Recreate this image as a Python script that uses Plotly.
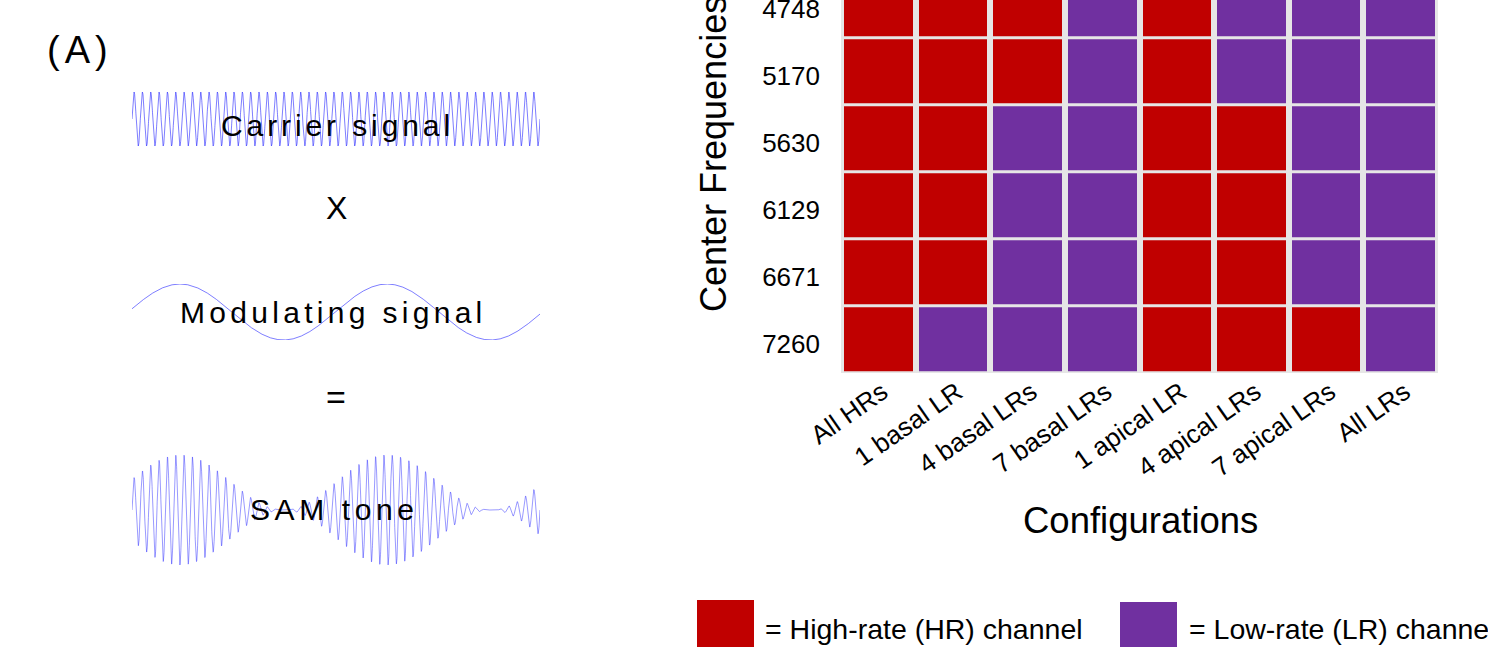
import numpy as np
import plotly.graph_objects as go

# ---------------- data ----------------
configurations = ["All HRs", "1 basal LR", "4 basal LRs", "7 basal LRs",
                  "1 apical LR", "4 apical LRs", "7 apical LRs", "All LRs"]
center_frequencies = ["7260", "6671", "6129", "5630", "5170", "4748"]
# 1 = high-rate (HR) channel, 0 = low-rate (LR) channel, one list per centre frequency
hr_7260 = [1, 0, 0, 0, 1, 1, 1, 0]
hr_6671 = [1, 1, 0, 0, 1, 1, 0, 0]
hr_6129 = [1, 1, 0, 0, 1, 1, 0, 0]
hr_5630 = [1, 1, 0, 0, 1, 1, 0, 0]
hr_5170 = [1, 1, 1, 0, 1, 0, 0, 0]
hr_4748 = [1, 1, 1, 0, 1, 0, 0, 0]
channel_matrix = [hr_7260, hr_6671, hr_6129, hr_5630, hr_5170, hr_4748]

# panel A waveform parameters
carrier_cycles = 49
modulation_cycles = 1.97
modulation_phase = 0.115
n_samples = 4000

HR_COLOR = "#c00000"
LR_COLOR = "#7030a0"
GAP_COLOR = "#e6e6e6"
WAVE_COLOR = "rgba(40,40,255,0.6)"
FONT = "Liberation Sans, Arial, sans-serif"

W, H = 1488, 647


def px(x):
    return x / W


def py(y):
    return 1 - y / H


t = np.linspace(0, 1, n_samples)
carrier = np.sin(2 * np.pi * carrier_cycles * t)
modulator = np.sin(2 * np.pi * modulation_cycles * t + modulation_phase)
sam = (1 + modulator) * carrier

fig = go.Figure()

# ---------------- panel A: signals ----------------
fig.add_trace(go.Scatter(x=t, y=carrier, mode="lines", line=dict(color=WAVE_COLOR, width=1),
                         xaxis="x2", yaxis="y2", hoverinfo="skip", showlegend=False))
fig.add_trace(go.Scatter(x=t, y=modulator, mode="lines", line=dict(color=WAVE_COLOR, width=1),
                         xaxis="x3", yaxis="y3", hoverinfo="skip", showlegend=False))
fig.add_trace(go.Scatter(x=t, y=sam, mode="lines", line=dict(color=WAVE_COLOR, width=0.8),
                         xaxis="x4", yaxis="y4", hoverinfo="skip", showlegend=False))

# ---------------- panel B: heatmap ----------------
fig.add_trace(go.Heatmap(
    x=configurations, y=center_frequencies, z=channel_matrix,
    colorscale=[[0, LR_COLOR], [0.5, LR_COLOR], [0.5, HR_COLOR], [1, HR_COLOR]],
    zmin=0, zmax=1, showscale=False, xgap=6, ygap=3, hoverinfo="skip",
    xaxis="x", yaxis="y"))

hidden = dict(visible=False, fixedrange=True, automargin=False)
wave_x = [px(132), px(540)]

fig.update_layout(
    template="none",
    width=W, height=H, autosize=False,
    margin=dict(l=0, r=0, t=0, b=0, pad=0, autoexpand=False),
    paper_bgcolor="white", plot_bgcolor="rgba(0,0,0,0)",
    font=dict(family=FONT, color="black"),
    showlegend=False,
    xaxis=dict(type="category", domain=[px(841), px(1438)], range=[-0.5, 7.5], tickangle=-35,
               tickfont=dict(size=26), showgrid=False, zeroline=False, showline=False,
               ticks="", ticklabelstandoff=-2, ticklabelshift=4, fixedrange=True,
               automargin=False, categoryorder="array", categoryarray=configurations),
    yaxis=dict(type="category", domain=[py(373), 1.0], range=[-0.5, 5.07], tickfont=dict(size=26),
               showgrid=False, zeroline=False, showline=False, ticks="",
               ticklabelstandoff=20, ticklabelshift=4, fixedrange=True, automargin=False,
               categoryorder="array", categoryarray=center_frequencies),
    xaxis2=dict(domain=wave_x, range=[0, 1], anchor="y2", **hidden),
    yaxis2=dict(domain=[py(146), py(92)], range=[-1, 1], anchor="x2", **hidden),
    xaxis3=dict(domain=wave_x, range=[0, 1], anchor="y3", **hidden),
    yaxis3=dict(domain=[py(340), py(284)], range=[-1, 1], anchor="x3", **hidden),
    xaxis4=dict(domain=wave_x, range=[0, 1], anchor="y4", **hidden),
    yaxis4=dict(domain=[py(565), py(455)], range=[-2, 2], anchor="x4", **hidden),
)

# grey background behind heatmap cells (visible through the gaps)
fig.add_shape(type="rect", xref="x domain", yref="y domain", x0=0, x1=1, y0=0, y1=1,
              fillcolor=GAP_COLOR, line=dict(width=0), layer="below")

# legend swatches
fig.add_shape(type="rect", xref="paper", yref="paper", x0=px(697), x1=px(754),
              y0=py(647), y1=py(600), fillcolor=HR_COLOR, line=dict(width=0))
fig.add_shape(type="rect", xref="paper", yref="paper", x0=px(1120), x1=px(1177),
              y0=py(647), y1=py(602), fillcolor=LR_COLOR, line=dict(width=0))


def note(text, x, y, size, angle=0, xanchor="center", spacing=None):
    if spacing:
        text = f'<span style="letter-spacing:{spacing}px">{text}</span>'
    fig.add_annotation(text=text, x=px(x), y=py(y), xref="paper", yref="paper",
                       showarrow=False, xanchor=xanchor, yanchor="middle",
                       textangle=angle, font=dict(size=size, family=FONT, color="black"))


note("(A)", 80, 50, 38, spacing=5)
note("Carrier signal", 337, 125, 30, spacing=3.9)
note("X", 336, 208, 32)
note("Modulating signal", 333, 312, 30, spacing=4.3)
note("=", 336, 397, 34)
note("SAM tone", 334, 509, 30, spacing=4.6)
note("Center Frequencies", 713, 154, 36, angle=-90)
note("Configurations", 1140, 520, 36.5)
note("= High-rate (HR) channel", 763, 629, 28.5, xanchor="left")
note("= Low-rate (LR) channel", 1187, 629, 28.5, xanchor="left")

fig.write_html("out.html", config={"displayModeBar": False, "staticPlot": True},
               post_script="document.body.style.margin='0';document.body.style.overflow='hidden';")
